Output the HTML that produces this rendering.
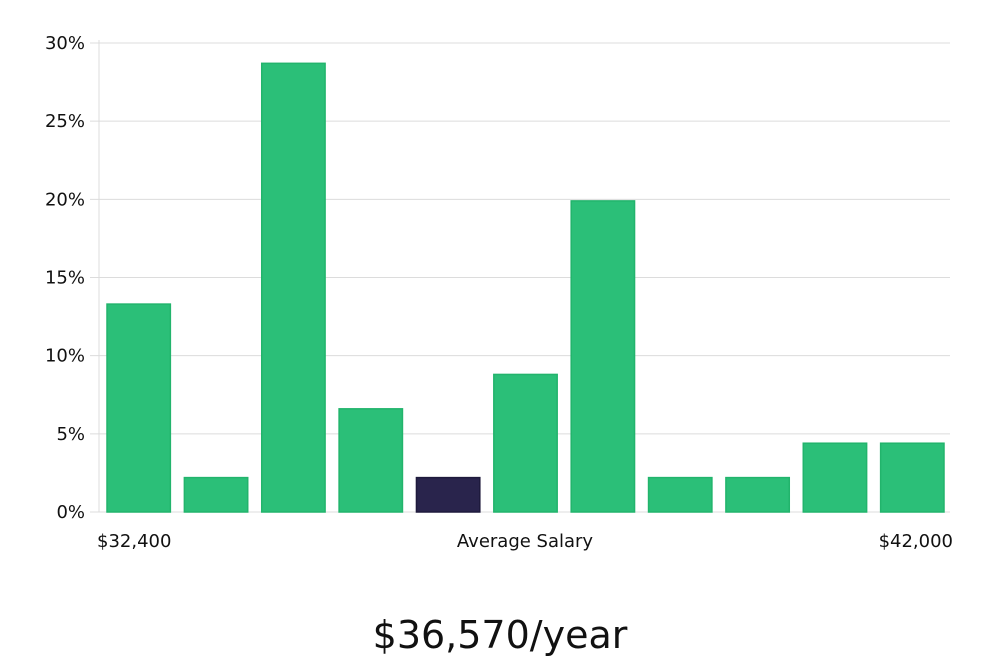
<!DOCTYPE html>
<html><head><meta charset="utf-8"><style>
body{margin:0;background:#fff;width:1000px;height:660px;overflow:hidden}
svg{display:block}
text{font-family:"DejaVu Sans","Liberation Sans",sans-serif;fill:#111}
</style></head><body>
<svg id="chart" width="1000" height="660"></svg>
<script>
const categories=["b1","b2","b3","b4","b5","b6","b7","b8","b9","b10","b11"];
const values=[13.3,2.2,28.7,6.6,2.2,8.8,19.9,2.2,2.2,4.4,4.4];
const highlight=[false,false,false,false,true,false,false,false,false,false,false];
const yTicks=[0,5,10,15,20,25,30];
const yTickLabels=["0%","5%","10%","15%","20%","25%","30%"];
const svg=document.getElementById('chart');
const NS='http://www.w3.org/2000/svg';
const L=99,R=950,T=43,B=512,yMax=30;
const y=v=>B-(v/yMax)*(B-T);
const step=(R-L)/categories.length;
const x=i=>L+i*step+8;
const bw=step-14;
function mk(tag,attrs,name){const e=document.createElementNS(NS,tag);for(const k in attrs)e.setAttribute(k,attrs[k]);


svg.appendChild(e);return e;}
yTicks.forEach((t,i)=>{
 mk('line',{x1:90,x2:R,y1:y(t),y2:y(t),stroke:'#dcdcdc','stroke-width':1},'gridline');
 const tx=mk('text',{x:85,y:y(t)+6,'text-anchor':'end','font-size':18},'y-tick-label');tx.textContent=yTickLabels[i];
});
mk('line',{x1:L,x2:L,y1:40,y2:B,stroke:'#dcdcdc','stroke-width':1},'y-axis');
values.forEach((v,i)=>{
 mk('rect',{x:x(i),y:y(v),width:bw,height:B-y(v),fill:highlight[i]?'#29244c':'#2bbf78',stroke:highlight[i]?'#1e1a3c':'#22b46c','stroke-width':1.5},'bar-'+categories[i]);
});
const l1=mk('text',{x:97,y:547,'font-size':18},'x-min-label');l1.textContent='$32,400';
const l2=mk('text',{x:525,y:547,'font-size':18,'text-anchor':'middle'},'x-center-label');l2.textContent='Average Salary';
const l3=mk('text',{x:953,y:547,'font-size':18,'text-anchor':'end'},'x-max-label');l3.textContent='$42,000';
const s=mk('text',{x:500,y:648,'font-size':38,'text-anchor':'middle','font-family':'Liberation Sans Narrow, Liberation Sans, sans-serif'},'average-salary-value');s.textContent='$36,570/year';
</script>
</body></html>
